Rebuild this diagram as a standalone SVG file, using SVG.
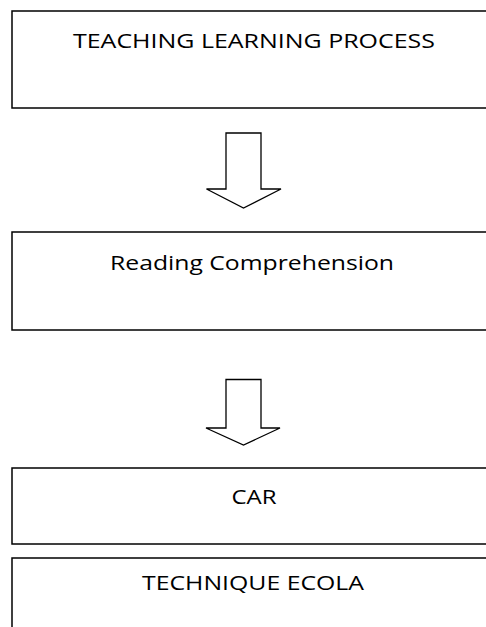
<svg xmlns="http://www.w3.org/2000/svg" width="486" height="627" viewBox="0 0 486 627">
  <style>
    .box { fill: #ffffff; stroke: #000000; stroke-width: 1.5; }
    .arrow { fill: #ffffff; stroke: #000000; stroke-width: 1.3; stroke-linejoin: miter; }
    .label { font-family: "Open Sans", "Liberation Sans", sans-serif; font-size: 20px; fill: #000000; text-anchor: middle; }
  </style>
  <rect width="486" height="627" fill="#ffffff"/>

  <g id="node-teaching">
    <rect class="box" x="12" y="11" width="490" height="97"/>
    <text class="label" x="254" y="48" textLength="362" lengthAdjust="spacingAndGlyphs">TEACHING LEARNING PROCESS</text>
  </g>

  <g id="node-reading">
    <rect class="box" x="12" y="232" width="490" height="98"/>
    <text class="label" x="252" y="270" textLength="284" lengthAdjust="spacingAndGlyphs">Reading Comprehension</text>
  </g>

  <g id="node-car">
    <rect class="box" x="12" y="468" width="490" height="76"/>
    <text class="label" x="254" y="504" textLength="45" lengthAdjust="spacingAndGlyphs">CAR</text>
  </g>

  <g id="node-ecola">
    <rect class="box" x="12" y="558" width="490" height="80"/>
    <text class="label" x="253" y="590" textLength="222" lengthAdjust="spacingAndGlyphs">TECHNIQUE ECOLA</text>
  </g>

  <g id="connectors">
    <path class="arrow" d="M226,133 L261,133 L261,189 L281,189 L243.5,208 L206.5,189 L226,189 Z"/>
    <path class="arrow" d="M226,379.5 L261,379.5 L261,428 L280,428 L243.5,445 L206,428 L226,428 Z"/>
  </g>
</svg>
